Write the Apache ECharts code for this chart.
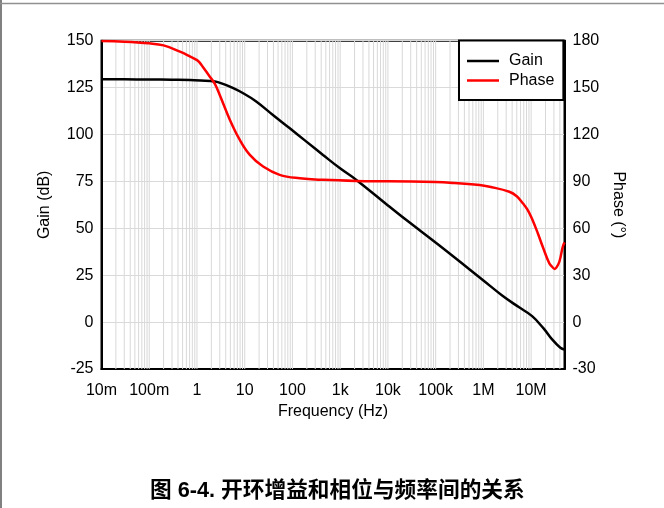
<!DOCTYPE html>
<html>
<head>
<meta charset="utf-8">
<script src="https://cdn.jsdelivr.net/npm/echarts@6/dist/echarts.min.js"></script>
<style>
html,body{margin:0;padding:0;background:#fff;}
#c{width:664px;height:508px;}
</style>
</head>
<body>
<div id="c"></div>
<script>
// ---- data ----
const gainFreq = [0.01, 0.03, 0.1, 0.3, 0.71, 1.2, 2.37, 3.5, 4.9, 9.3, 17.7, 39, 88, 196, 437, 977, 2180, 10000, 24000, 120000, 1000000, 2470000, 5500000, 10500000, 18400000, 27500000, 41000000, 50000000];
const gainDb   = [129.4, 129.4, 129.3, 129.2, 129.1, 128.8, 128.2, 127.0, 125.5, 122.0, 117.5, 110.4, 103.3, 96.2, 89.1, 82.1, 75.8, 62.2, 54.5, 40.8, 22.2, 14.2, 8.0, 3.2, -3.5, -9.2, -13.7, -14.6];

const phaseFreq = [0.01, 0.03, 0.1, 0.2, 0.44, 0.71, 1.0, 1.15, 1.33, 1.86, 2.37, 3.0, 4.9, 7.9, 12.8, 24.3, 54, 142, 437, 2180, 10000, 100000, 200000, 832000, 1350000, 3500000, 5000000, 6700000, 8500000, 10700000, 13800000, 17500000, 24000000, 27500000, 31000000, 34000000, 39000000, 46000000, 50000000];
const phaseDeg  = [179.8, 179.4, 178.3, 177.0, 173.0, 170.0, 167.6, 165.8, 163.2, 157.0, 152.4, 145.3, 129.3, 116.5, 107.0, 99.5, 94.2, 92.0, 91.0, 90.3, 90.1, 89.6, 89.2, 87.7, 86.6, 83.4, 80.5, 76.0, 71.7, 65.3, 56.8, 48.2, 37.6, 35.4, 34.0, 35.0, 38.6, 48.2, 51.0];

const xTickLabels = ['10m', '100m', '1', '10', '100', '1k', '10k', '100k', '1M', '10M'];
const seriesNames = ['Gain', 'Phase'];
const axisNames = ['Frequency (Hz)', 'Gain (dB)', 'Phase (°)'];
const titleText = '图 6-4. 开环增益和相位与频率间的关系';

// ---- build ----
const gainData = gainFreq.map((f, i) => [f, gainDb[i]]);
const phaseData = phaseFreq.map((f, i) => [f, phaseDeg[i]]);

const X_MIN = 0.01, X_MAX = 5e7, Y_MIN = -25, Y_MAX = 150;
// vertical log grid lines at m x 10^k, as one broken line series
const gridData = [];
for (let e = -2; e <= 7; e++) {
  for (let m = 1; m <= 9; m++) {
    const v = m * Math.pow(10, e);
    if (v > X_MIN * 1.00001 && v < X_MAX) {
      gridData.push([v, Y_MIN], [v, Y_MAX], '-');
    }
  }
}

const FONT = 'Liberation Sans, Arial, sans-serif';
const chart = echarts.init(document.getElementById('c'), null, { renderer: 'canvas' });
chart.setOption({
  animation: false,
  backgroundColor: '#fff',
  title: {
    text: titleText,
    left: 150,
    top: 480,
    padding: 0,
    textStyle: { fontFamily: 'Liberation Sans, Noto Sans CJK SC, sans-serif', fontSize: 21.7, fontWeight: 'bold', color: '#000' }
  },
  graphic: [
    { type: 'line', shape: { x1: 1, y1: 0, x2: 1, y2: 508 }, style: { stroke: '#808080', lineWidth: 2 }, silent: true },
    { type: 'line', shape: { x1: 0, y1: 3.5, x2: 664, y2: 3.5 }, style: { stroke: '#909090', lineWidth: 1.5 }, silent: true }
  ],
  grid: {
    left: 101.5, right: 99.5, top: 40.7, bottom: 139,
    show: true, borderColor: '#000', borderWidth: 2, backgroundColor: 'transparent'
  },
  legend: {
    data: seriesNames,
    orient: 'vertical',
    left: 459, top: 40.5, z: 10,
    icon: 'rect',
    backgroundColor: '#fff',
    borderColor: '#000', borderWidth: 2, borderRadius: 0,
    padding: [11, 9, 10, 8],
    itemWidth: 32, itemHeight: 2.5, itemGap: 0.5,
    textStyle: { fontFamily: FONT, fontSize: 16, lineHeight: 19, color: '#000', padding: [0, 0, 0, 5] }
  },
  xAxis: {
    type: 'log', logBase: 10, min: X_MIN, max: X_MAX, interval: 1,
    name: axisNames[0], nameLocation: 'middle', nameGap: 32,
    nameTextStyle: { fontFamily: FONT, fontSize: 16, color: '#000' },
    axisLine: { show: true, onZero: false, lineStyle: { color: '#000', width: 2 } },
    axisTick: { show: false },
    splitLine: { show: false },
    axisLabel: {
      margin: 14, fontFamily: FONT, fontSize: 16, color: '#000', showMaxLabel: false,
      formatter: function (v) {
        const e = Math.log10(v);
        const r = Math.round(e);
        if (Math.abs(e - r) > 1e-6) return '';
        const lab = xTickLabels[r + 2];
        return lab === undefined ? '' : lab;
      }
    }
  },
  yAxis: [
    {
      type: 'value', min: Y_MIN, max: Y_MAX, interval: 25, position: 'left',
      name: axisNames[1], nameLocation: 'middle', nameGap: 49, nameRotate: 90,
      nameTextStyle: { fontFamily: FONT, fontSize: 16, color: '#000' },
      axisLine: { show: true, onZero: false, lineStyle: { color: '#000', width: 2 } },
      axisTick: { show: false },
      axisLabel: { margin: 8, fontFamily: FONT, fontSize: 16, color: '#000' },
      splitLine: { show: true, lineStyle: { color: '#dadada', width: 1 } }
    },
    {
      type: 'value', min: -30, max: 180, interval: 30, position: 'right',
      name: axisNames[2], nameLocation: 'middle', nameGap: 37, nameRotate: -90,
      nameTextStyle: { fontFamily: FONT, fontSize: 16, color: '#000' },
      axisLine: { show: true, onZero: false, lineStyle: { color: '#000', width: 2 } },
      axisTick: { show: false },
      axisLabel: { margin: 8, fontFamily: FONT, fontSize: 16, color: '#000' },
      splitLine: { show: false }
    }
  ],
  series: [
    {
      name: '_grid', type: 'line', yAxisIndex: 0, data: gridData, z: 1, silent: true,
      showSymbol: false, symbol: 'none', connectNulls: false,
      lineStyle: { color: '#d8d8d8', width: 1 }, itemStyle: { color: '#d8d8d8' },
      tooltip: { show: false }
    },
    {
      name: seriesNames[0], type: 'line', yAxisIndex: 0, data: gainData,
      showSymbol: false, symbol: 'none', smooth: 0.4, z: 3,
      lineStyle: { color: '#000', width: 2.5 }, itemStyle: { color: '#000' }
    },
    {
      name: seriesNames[1], type: 'line', yAxisIndex: 1, data: phaseData,
      showSymbol: false, symbol: 'none', smooth: 0.4, z: 3,
      lineStyle: { color: '#ff0000', width: 2.5 }, itemStyle: { color: '#ff0000' }
    }
  ]
});
</script>
</body>
</html>
